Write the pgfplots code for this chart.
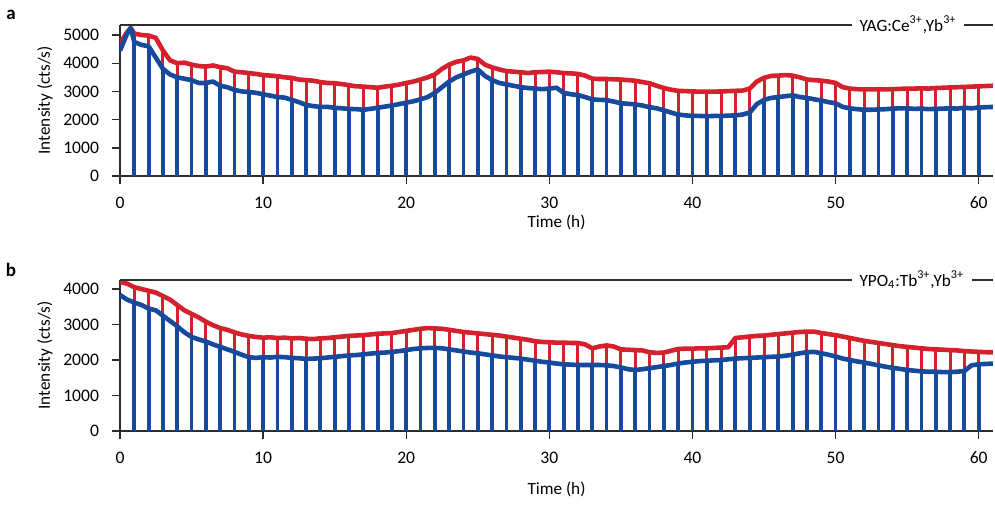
\documentclass[border=0pt]{standalone}
\usepackage{pgfplots}
\pgfplotsset{compat=1.18}
\usepackage{pgfplotstable}
\usepackage{fontspec}
\setmainfont{Carlito}
\definecolor{myred}{RGB}{213,32,45}
\definecolor{myblue}{RGB}{22,74,156}
\definecolor{axgray}{RGB}{45,45,45}

\pgfplotstableread{
t r b
0 4700 4450
0.25 4900 4750
0.5 5100 5050
0.75 5250 5250
1 5050 4750
1.5 5000 4650
2 4980 4600
2.5 4900 4200
3 4450 3800
3.5 4100 3600
4 4000 3500
4.5 4020 3450
5 3950 3400
5.5 3900 3300
6 3880 3300
6.5 3920 3350
7 3860 3200
7.5 3820 3150
8 3700 3050
8.5 3680 3000
9 3650 2980
9.5 3620 2950
10 3580 2900
10.5 3560 2850
11 3540 2800
11.5 3500 2780
12 3480 2700
12.5 3420 2620
13 3400 2520
13.5 3380 2480
14 3330 2450
14.5 3300 2450
15 3290 2420
15.5 3260 2400
16 3220 2380
16.5 3180 2370
17 3170 2350
17.5 3150 2380
18 3130 2420
18.5 3170 2460
19 3200 2500
19.5 3240 2550
20 3300 2600
20.5 3350 2650
21 3420 2720
21.5 3500 2800
22 3600 2950
22.5 3800 3150
23 3950 3350
23.5 4050 3500
24 4100 3600
24.5 4200 3700
25 4150 3780
25.5 3950 3550
26 3850 3400
26.5 3780 3300
27 3720 3250
27.5 3700 3200
28 3680 3150
28.5 3650 3120
29 3680 3100
29.5 3690 3080
30 3700 3100
30.5 3680 3130
31 3650 2950
31.5 3640 2900
32 3620 2870
32.5 3560 2800
33 3450 2720
33.5 3440 2700
34 3440 2690
34.5 3430 2640
35 3420 2580
35.5 3400 2560
36 3380 2540
36.5 3330 2500
37 3290 2440
37.5 3200 2400
38 3120 2330
38.5 3060 2250
39 3020 2180
39.5 3010 2150
40 3000 2130
40.5 2990 2130
41 2990 2120
41.5 2990 2130
42 3000 2130
42.5 3010 2140
43 3020 2150
43.5 3030 2180
44 3100 2250
44.5 3350 2550
45 3480 2700
45.5 3550 2770
46 3560 2800
46.5 3580 2830
47 3560 2860
47.5 3500 2800
48 3420 2770
48.5 3400 2720
49 3380 2680
49.5 3350 2620
50 3300 2580
50.5 3150 2450
51 3100 2400
51.5 3080 2370
52 3070 2350
52.5 3070 2350
53 3080 2360
53.5 3070 2370
54 3080 2390
54.5 3090 2400
55 3100 2400
55.5 3100 2380
56 3110 2390
56.5 3100 2370
57 3120 2380
57.5 3130 2390
58 3140 2400
58.5 3150 2390
59 3160 2420
59.5 3170 2400
60 3180 2430
60.5 3190 2440
61 3200 2450
}\dataA

\pgfplotstableread{
t r b
0 4200 3830
0.5 4150 3700
1 4050 3620
1.5 4000 3550
2 3950 3450
2.5 3900 3400
3 3800 3250
3.5 3700 3100
4 3550 2950
4.5 3400 2780
5 3300 2650
5.5 3200 2580
6 3080 2520
6.5 2980 2440
7 2900 2370
7.5 2850 2300
8 2780 2230
8.5 2720 2150
9 2680 2080
9.5 2650 2060
10 2630 2080
10.5 2640 2070
11 2620 2090
11.5 2630 2080
12 2610 2060
12.5 2620 2050
13 2600 2030
13.5 2590 2040
14 2610 2050
14.5 2620 2070
15 2640 2090
15.5 2660 2110
16 2680 2130
16.5 2690 2140
17 2700 2160
17.5 2720 2180
18 2740 2200
18.5 2750 2210
19 2760 2230
19.5 2790 2250
20 2820 2280
20.5 2850 2310
21 2880 2330
21.5 2900 2340
22 2890 2340
22.5 2880 2330
23 2850 2300
23.5 2820 2270
24 2790 2240
24.5 2770 2210
25 2750 2190
25.5 2730 2160
26 2710 2130
26.5 2690 2100
27 2660 2080
27.5 2630 2060
28 2600 2040
28.5 2570 2010
29 2530 1980
29.5 2510 1950
30 2500 1930
30.5 2490 1900
31 2490 1880
31.5 2480 1870
32 2480 1860
32.5 2440 1860
33 2330 1860
33.5 2380 1860
34 2410 1850
34.5 2380 1830
35 2300 1790
35.5 2290 1740
36 2280 1720
36.5 2270 1740
37 2220 1770
37.5 2200 1800
38 2210 1830
38.5 2260 1860
39 2310 1900
39.5 2320 1930
40 2320 1950
40.5 2330 1970
41 2330 1980
41.5 2340 1990
42 2350 2000
42.5 2360 2020
43 2620 2040
43.5 2640 2050
44 2660 2060
44.5 2680 2070
45 2690 2080
45.5 2710 2090
46 2730 2100
46.5 2750 2120
47 2770 2150
47.5 2790 2190
48 2800 2220
48.5 2800 2230
49 2760 2190
49.5 2730 2150
50 2700 2100
50.5 2660 2040
51 2620 2000
51.5 2580 1960
52 2540 1930
52.5 2510 1890
53 2480 1850
53.5 2450 1810
54 2420 1780
54.5 2390 1750
55 2370 1720
55.5 2350 1700
56 2330 1680
56.5 2310 1670
57 2300 1670
57.5 2290 1660
58 2280 1660
58.5 2270 1670
59 2250 1690
59.5 2240 1850
60 2230 1880
60.5 2220 1890
61 2220 1900
}\dataB

\pgfplotsset{
 panel/.style={
  scale only axis, width=436.5pt, height=75.5pt,
  xmin=0, xmax=61, ymin=0,
  axis x line=bottom, axis y line=left,
  axis line style={-, axgray, line width=0.7pt},
  every outer x axis line/.append style={-},
  every outer y axis line/.append style={-},
  tick style={axgray, line width=0.7pt},
  tick align=outside, major tick length=4pt,
  xtick={0,10,...,60},
  ytick distance=1000,
  minor tick num=0,
  /pgf/number format/assume math mode=true,
  /pgf/number format/set thousands separator={},
  tick label style={font=\fontsize{8.8}{10}\selectfont},
  yticklabel style={xshift=-3pt},
  xticklabel style={yshift=-3pt},
  xlabel={Time (h)},
  ylabel={Intensity (cts/s)},
  every axis y label/.style={at={(axis description cs:0,0.5)}, xshift=-37.5pt, rotate=90, anchor=center, font=\fontsize{8.6}{10}\selectfont},
  clip mode=individual,
  unbounded coords=discard,
 },
 combs/.style={ycomb, x filter/.expression={(abs(x-round(x))<0.01 && x>0.5 && x<60.5) ? x : nan}},
 trace/.style={line width=2.3pt, line join=round},
}

\begin{document}
\begin{tikzpicture}
\path[use as bounding box] (0,0) rectangle (497.5pt,-252pt);
\node[anchor=center, font=\bfseries\fontsize{9.5}{10}\selectfont] at (5.5pt,-7.5pt) {a};
\node[anchor=center, font=\bfseries\fontsize{9.5}{10}\selectfont] at (5.5pt,-135pt) {b};

\begin{axis}[panel, at={(60pt,-88pt)}, anchor=south west, ymax=5355,
  every axis x label/.style={at={(axis description cs:0.5,0)}, yshift=-23pt, anchor=center, font=\fontsize{8.6}{10}\selectfont}]
\addplot[combs, myred, line width=1.5pt] table[x=t, y=r] {\dataA};
\addplot[myred, trace] table[x=t, y=r] {\dataA};
\addplot[combs, myblue, line width=1.9pt] table[x=t, y=b] {\dataA};
\addplot[myblue, trace] table[x=t, y=b] {\dataA};
\draw[axgray, line width=0.7pt] (rel axis cs:0,1) -- (rel axis cs:1,1);
\node[fill=white, inner xsep=4pt, inner ysep=1pt, font=\fontsize{8.6}{10}\selectfont] at (rel axis cs:0.9026,1) {YAG:Ce\textsuperscript{3+},Yb\textsuperscript{3+}};
\end{axis}

\begin{axis}[panel, at={(60pt,-215.5pt)}, anchor=south west, ymax=4254,
  every axis x label/.style={at={(axis description cs:0.5,0)}, yshift=-29pt, anchor=center, font=\fontsize{8.6}{10}\selectfont}]
\addplot[combs, myred, line width=1.5pt] table[x=t, y=r] {\dataB};
\addplot[myred, trace] table[x=t, y=r] {\dataB};
\addplot[combs, myblue, line width=1.9pt] table[x=t, y=b] {\dataB};
\addplot[myblue, trace] table[x=t, y=b] {\dataB};
\draw[axgray, line width=0.7pt] (rel axis cs:0,1) -- (rel axis cs:1,1);
\node[fill=white, inner xsep=4pt, inner ysep=1pt, font=\fontsize{8.6}{10}\selectfont] at (rel axis cs:0.907,1) {YPO\textsubscript{4}:Tb\textsuperscript{3+},Yb\textsuperscript{3+}};
\end{axis}
\end{tikzpicture}
\end{document}
